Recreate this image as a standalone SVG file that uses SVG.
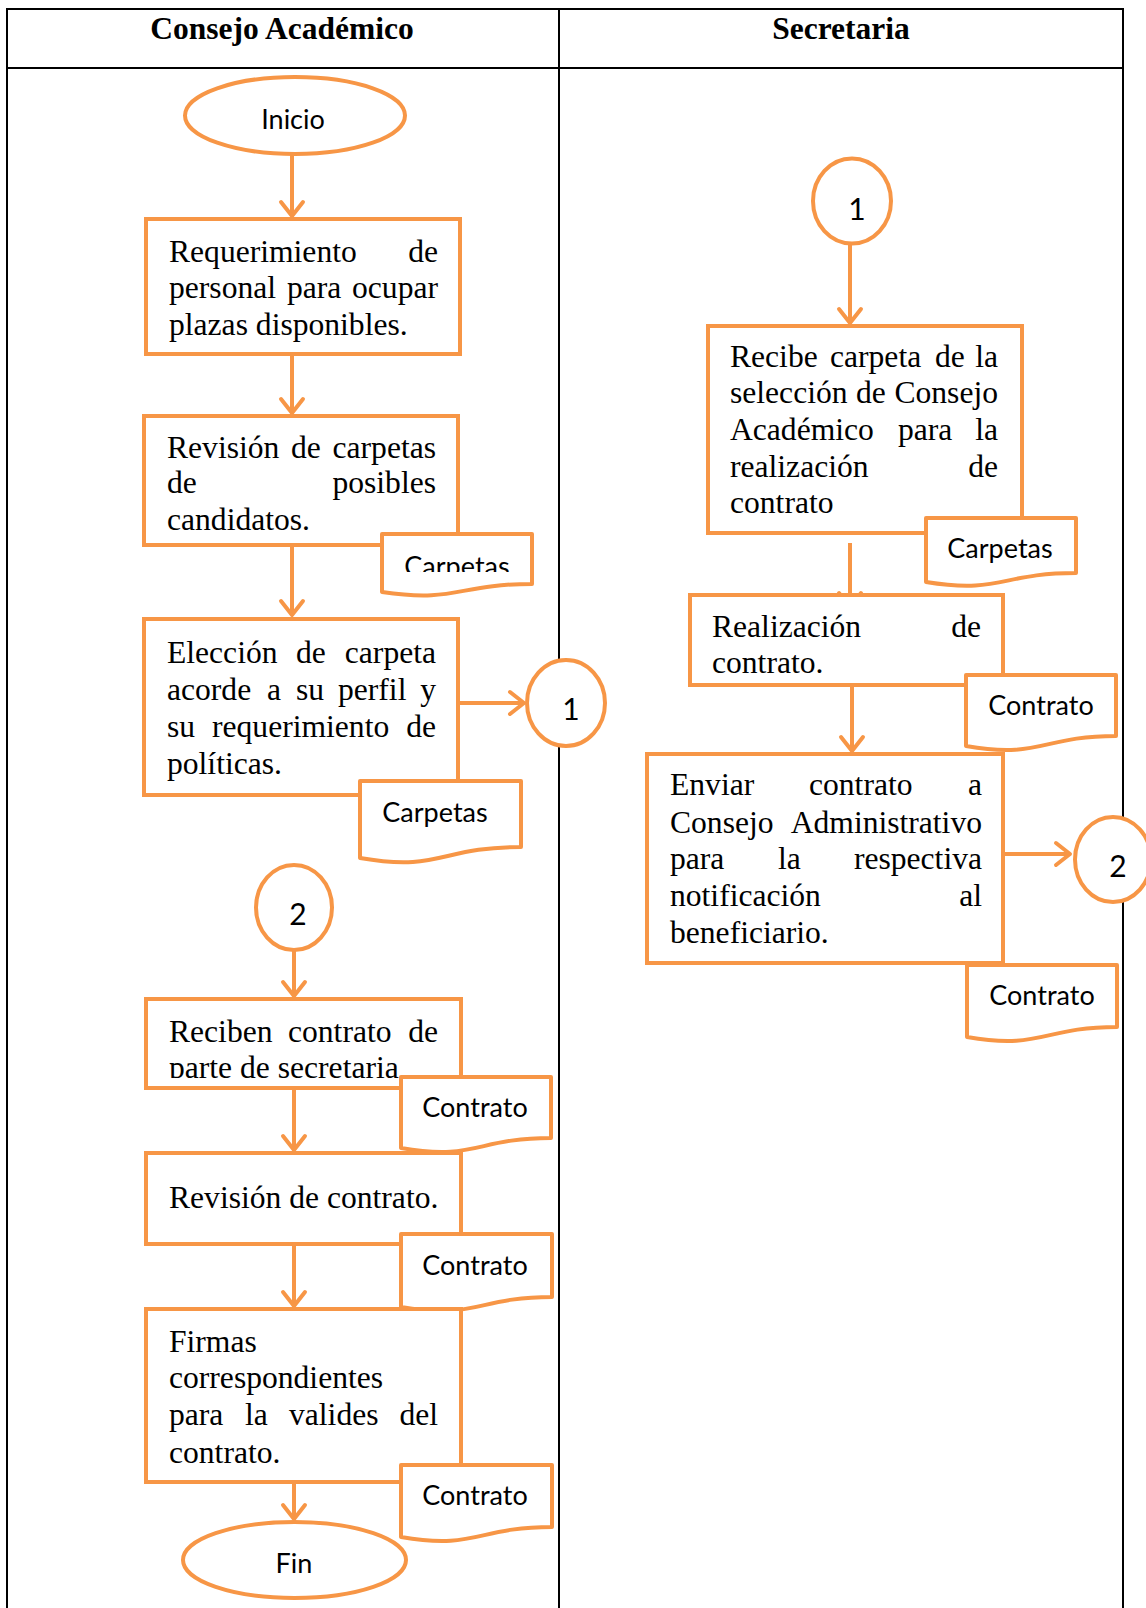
<svg xmlns="http://www.w3.org/2000/svg" width="1146" height="1608" viewBox="0 0 1146 1608">
<style>
  .grid { stroke: #000; stroke-width: 2; fill: none; }
  .hdr { font-family: "Liberation Serif", "Times New Roman", serif; font-weight: bold; font-size: 31.5px; fill: #000; text-anchor: middle; }
  .box { fill: #fff; stroke: #F79646; stroke-width: 4; }
  .doc { fill: #fff; stroke: #F79646; stroke-width: 4; stroke-linejoin: round; }
  .term { fill: #fff; stroke: #F79646; stroke-width: 4; }
  .t { font-family: "Liberation Serif", "Times New Roman", serif; font-size: 31.6px; fill: #000; }
  .s { font-family: Lato, "Open Sans", sans-serif; font-size: 27px; fill: #000; text-anchor: middle; }
  .n { font-family: Lato, "Open Sans", sans-serif; font-size: 30px; fill: #000; text-anchor: middle; }
  .e { text-anchor: end; }
  .link { stroke: #F79646; stroke-width: 4; fill: none; marker-end: url(#arr); }
</style>
<defs>
  <marker id="arr" viewBox="-18 -14 22 28" refX="0" refY="0" markerWidth="22" markerHeight="28" orient="auto" markerUnits="userSpaceOnUse">
    <path d="M-14,-11 L0,0 L-14,11" fill="none" stroke="#F79646" stroke-width="4" stroke-linecap="round" stroke-linejoin="round"/>
  </marker>
  <clipPath id="clipCarpetas1"><rect x="380" y="530" width="160" height="42"/></clipPath>
  <clipPath id="clipReciben"><rect x="150" y="1000" width="300" height="78"/></clipPath>
</defs>

<!-- swimlane table -->
<g id="table">
  <rect class="grid" x="7" y="9" width="1116" height="1620"/>
  <line class="grid" x1="7" y1="68" x2="1123" y2="68"/>
  <line class="grid" x1="559" y1="9" x2="559" y2="1608"/>
  <text class="hdr" x="282" y="39">Consejo Académico</text>
  <text class="hdr" x="841" y="39">Secretaria</text>
</g>

<!-- flow connectors -->
<g id="connectors">
  <line class="link" x1="292" y1="154" x2="292" y2="216"/>
  <line class="link" x1="292" y1="350" x2="292" y2="413"/>
  <line class="link" x1="292" y1="547" x2="292" y2="615"/>
  <line class="link" x1="460" y1="703" x2="524" y2="703"/>
  <line class="link" x1="294" y1="950" x2="294" y2="996"/>
  <line class="link" x1="294" y1="1088" x2="294" y2="1150"/>
  <line class="link" x1="294" y1="1244" x2="294" y2="1306"/>
  <line class="link" x1="294" y1="1476" x2="294" y2="1519"/>
  <line class="link" x1="850" y1="244" x2="850" y2="323"/>
  <line class="link" x1="850" y1="543" x2="850" y2="607"/>
  <line class="link" x1="852" y1="685" x2="852" y2="751"/>
  <line class="link" x1="1005" y1="854" x2="1070" y2="854"/>
</g>

<!-- Consejo Académico lane -->
<g id="inicio">
  <ellipse class="term" cx="295" cy="115.5" rx="110" ry="38.5"/>
  <text class="s" x="293" y="129">Inicio</text>
</g>

<g id="requerimiento">
  <rect class="box" x="146" y="219" width="314" height="135"/>
  <text class="t" y="262"><tspan x="169">Requerimiento</tspan><tspan class="e" x="438">de</tspan></text>
  <text class="t" y="298"><tspan x="169">personal</tspan><tspan x="287">para</tspan><tspan class="e" x="438">ocupar</tspan></text>
  <text class="t" x="169" y="335">plazas disponibles.</text>
</g>

<g id="revision-carpetas">
  <rect class="box" x="144" y="416" width="314" height="129"/>
  <text class="t" y="458"><tspan x="167">Revisión</tspan><tspan x="291">de</tspan><tspan class="e" x="436">carpetas</tspan></text>
  <text class="t" y="493"><tspan x="167">de</tspan><tspan class="e" x="436">posibles</tspan></text>
  <text class="t" x="167" y="530">candidatos.</text>
</g>

<g id="doc-carpetas-1">
  <path class="doc" d="M382,534 H532 V584 C457,584 457,603 382,592 Z"/>
  <text class="s" x="457" y="576" clip-path="url(#clipCarpetas1)">Carpetas</text>
</g>

<g id="eleccion">
  <rect class="box" x="144" y="619" width="314" height="176"/>
  <text class="t" y="663"><tspan x="167">Elección</tspan><tspan x="296">de</tspan><tspan class="e" x="436">carpeta</tspan></text>
  <text class="t" y="700"><tspan x="167">acorde</tspan><tspan x="267">a</tspan><tspan x="296">su</tspan><tspan x="338">perfil</tspan><tspan class="e" x="436">y</tspan></text>
  <text class="t" y="737"><tspan x="167">su</tspan><tspan x="212">requerimiento</tspan><tspan class="e" x="436">de</tspan></text>
  <text class="t" x="167" y="774">políticas.</text>
</g>

<g id="doc-carpetas-2">
  <path class="doc" d="M360,781 H521 V847 C440.5,847 440.5,872 360,858 Z"/>
  <text class="s" x="435" y="822">Carpetas</text>
</g>

<g id="conector-1-out">
  <ellipse class="term" cx="566" cy="703" rx="39" ry="43"/>
  <text class="n" x="571" y="720">1</text>
</g>

<g id="conector-2-in">
  <ellipse class="term" cx="294" cy="907.5" rx="38" ry="42.5"/>
  <text class="n" x="298" y="925">2</text>
</g>

<g id="reciben">
  <rect class="box" x="146" y="999" width="315" height="89"/>
  <g clip-path="url(#clipReciben)">
    <text class="t" y="1042"><tspan x="169">Reciben</tspan><tspan x="288">contrato</tspan><tspan class="e" x="438">de</tspan></text>
    <text class="t" x="169" y="1078">parte de secretaria</text>
  </g>
</g>

<g id="doc-contrato-1">
  <path class="doc" d="M401,1077 H551 V1138 C476,1138 476,1161 401,1148 Z"/>
  <text class="s" x="475" y="1117">Contrato</text>
</g>

<g id="revision-contrato">
  <rect class="box" x="146" y="1153" width="315" height="91"/>
  <text class="t" x="169" y="1208">Revisión de contrato.</text>
</g>

<g id="doc-contrato-2">
  <path class="doc" d="M401,1234 H552 V1297 C476.5,1297 476.5,1320 401,1307 Z"/>
  <text class="s" x="475" y="1275">Contrato</text>
</g>

<g id="firmas">
  <rect class="box" x="146" y="1309" width="315" height="173"/>
  <text class="t" x="169" y="1352">Firmas</text>
  <text class="t" x="169" y="1388">correspondientes</text>
  <text class="t" y="1425"><tspan x="169">para</tspan><tspan x="245">la</tspan><tspan x="289">valides</tspan><tspan class="e" x="438">del</tspan></text>
  <text class="t" x="169" y="1463">contrato.</text>
</g>

<g id="doc-contrato-3">
  <path class="doc" d="M401,1465 H552 V1527 C476.5,1527 476.5,1550 401,1537 Z"/>
  <text class="s" x="475" y="1505">Contrato</text>
</g>

<g id="fin">
  <ellipse class="term" cx="294.5" cy="1560" rx="111.5" ry="38"/>
  <text class="s" x="294" y="1573">Fin</text>
</g>

<!-- Secretaria lane -->
<g id="conector-1-in">
  <ellipse class="term" cx="852" cy="201" rx="39" ry="42.5"/>
  <text class="n" x="857" y="220">1</text>
</g>

<g id="recibe-carpeta">
  <rect class="box" x="708" y="326" width="314" height="207"/>
  <text class="t" y="367"><tspan x="730">Recibe</tspan><tspan x="830">carpeta</tspan><tspan x="935">de</tspan><tspan class="e" x="998">la</tspan></text>
  <text class="t" y="403"><tspan x="730">selección</tspan><tspan x="856">de</tspan><tspan class="e" x="998">Consejo</tspan></text>
  <text class="t" y="440"><tspan x="730">Académico</tspan><tspan x="898">para</tspan><tspan class="e" x="998">la</tspan></text>
  <text class="t" y="477"><tspan x="730">realización</tspan><tspan class="e" x="998">de</tspan></text>
  <text class="t" x="730" y="513">contrato</text>
</g>

<g id="doc-carpetas-3">
  <path class="doc" d="M926,518 H1076 V573 C1001,573 1001,594 926,582 Z"/>
  <text class="s" x="1000" y="558">Carpetas</text>
</g>

<g id="realizacion">
  <rect class="box" x="690" y="595" width="313" height="90"/>
  <text class="t" y="637"><tspan x="712">Realización</tspan><tspan class="e" x="981">de</tspan></text>
  <text class="t" x="712" y="673">contrato.</text>
</g>

<g id="doc-contrato-4">
  <path class="doc" d="M966,675 H1116 V736 C1041,736 1041,759 966,746 Z"/>
  <text class="s" x="1041" y="715">Contrato</text>
</g>

<g id="enviar">
  <rect class="box" x="647" y="754" width="356" height="209"/>
  <text class="t" y="795"><tspan x="670">Enviar</tspan><tspan x="809">contrato</tspan><tspan class="e" x="982">a</tspan></text>
  <text class="t" y="833"><tspan x="670">Consejo</tspan><tspan class="e" x="982">Administrativo</tspan></text>
  <text class="t" y="869"><tspan x="670">para</tspan><tspan x="778">la</tspan><tspan class="e" x="982">respectiva</tspan></text>
  <text class="t" y="906"><tspan x="670">notificación</tspan><tspan class="e" x="982">al</tspan></text>
  <text class="t" x="670" y="943">beneficiario.</text>
</g>

<g id="doc-contrato-5">
  <path class="doc" d="M967,965 H1117 V1027 C1042,1027 1042,1050 967,1037 Z"/>
  <text class="s" x="1042" y="1005">Contrato</text>
</g>

<g id="conector-2-out">
  <ellipse class="term" cx="1113" cy="859.5" rx="38" ry="42.5"/>
  <text class="n" x="1118" y="877">2</text>
</g>
</svg>
